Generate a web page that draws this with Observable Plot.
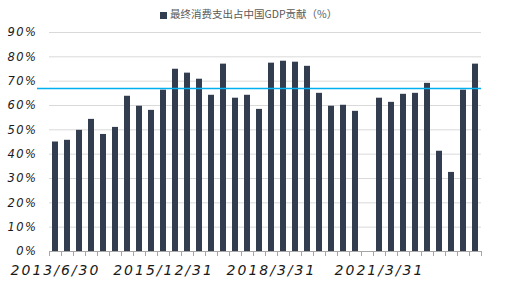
<!DOCTYPE html>
<html><head><meta charset="utf-8">
<script src="https://cdn.jsdelivr.net/npm/d3@7"></script>
<script src="https://cdn.jsdelivr.net/npm/@observablehq/plot@0.6"></script>
<style>
html,body{margin:0;padding:0;background:#fff;}
#legend{height:26px;width:519px;position:relative;font-family:"Noto Sans CJK SC","Noto Sans",sans-serif;font-size:10.5px;color:#595959;}
#legend .sw{position:absolute;left:160px;top:12px;width:7px;height:7px;background:#323d4f;}
#legend .tx{position:absolute;left:170px;top:7px;line-height:14px;white-space:nowrap;}
#chart g[aria-label="x-axis tick label"] text{letter-spacing:2px;}
#chart g[aria-label="y-axis tick label"] text{letter-spacing:1.5px;}
</style>
</head><body>
<div id="legend"><span class="sw"></span><span class="tx">最终消费支出占中国GDP贡献（%）</span></div>
<div id="chart"></div>
<script>
const dates = [
  "2013/6/30","2013/9/30","2013/12/31","2014/3/31","2014/6/30","2014/9/30","2014/12/31","2015/3/31","2015/6/30",
  "2015/12/31","2016/3/31","2016/6/30","2016/9/30","2016/12/31","2017/3/31","2017/6/30","2017/9/30","2017/12/31",
  "2018/3/31","2018/6/30","2018/9/30","2018/12/31","2019/3/31","2019/6/30","2019/9/30","2019/12/31","2020/12/31",
  "2021/3/31","2021/6/30","2021/9/30","2021/12/31","2022/3/31","2022/6/30","2022/9/30","2022/12/31","2023/3/31"
];
const values = [
  45.0, 45.7, 49.8, 54.3, 48.1, 51.0, 63.8, 59.7, 58.0,
  66.3, 74.9, 73.3, 70.8, 64.2, 77.0, 63.0, 64.2, 58.4,
  77.4, 78.2, 77.8, 76.1, 65.0, 59.7, 60.1, 57.6, null,
  63.0, 61.3, 64.6, 65.0, 69.1, 41.2, 32.5, 66.3, 77.0
];
const labelDates = ["2013/6/30","2015/12/31","2018/3/31","2021/3/31"];
const yTicks = [0,10,20,30,40,50,60,70,80,90];
const refLine = [67];

const data = dates.map((d,i)=>({date:d, value:values[i]}));

const chart = Plot.plot({
  width: 519,
  height: 263,
  marginTop: 6,
  marginBottom: 38,
  marginLeft: 49,
  marginRight: 38,
  style: {background:"#fff"},
  x: {type:"band", domain: dates, paddingInner: 0.5, paddingOuter: 0.25, axis: null, label: null},
  y: {domain:[0,90], axis: null, label: null},
  marks: [
    Plot.gridY(yTicks.filter(t=>t>0), {stroke:"#d9d9d9", strokeOpacity:1}),
    Plot.barY(data.filter(d=>d.value!=null), {x:"date", y:"value", fill:"#323d4f"}),
    Plot.ruleY([0], {stroke:"#a6a6a6"}),
    Plot.axisX(dates, {tickSize:5, tickFormat:()=>"", dx:-6, stroke:"#a6a6a6", label:null}),
    Plot.axisX([dates[dates.length-1]], {tickSize:5, tickFormat:()=>"", dx:6, stroke:"#a6a6a6", label:null}),
    Plot.axisX(labelDates, {tickSize:0, tickPadding:14, fontSize:14, fontStyle:"italic", fontFamily:"DejaVu Sans", fill:"#1a1a1a", label:null}),
    Plot.axisY(yTicks, {tickSize:0, tickPadding:12, tickFormat:d=>d+"%", fontSize:11.5, fontStyle:"italic", fontFamily:"DejaVu Sans", fill:"#1a1a1a", label:null}),
    Plot.ruleY(refLine, {stroke:"#00b0f0", strokeWidth:1.5, insetLeft:-12})
  ]
});
document.getElementById("chart").appendChild(chart);
</script>
</body></html>
